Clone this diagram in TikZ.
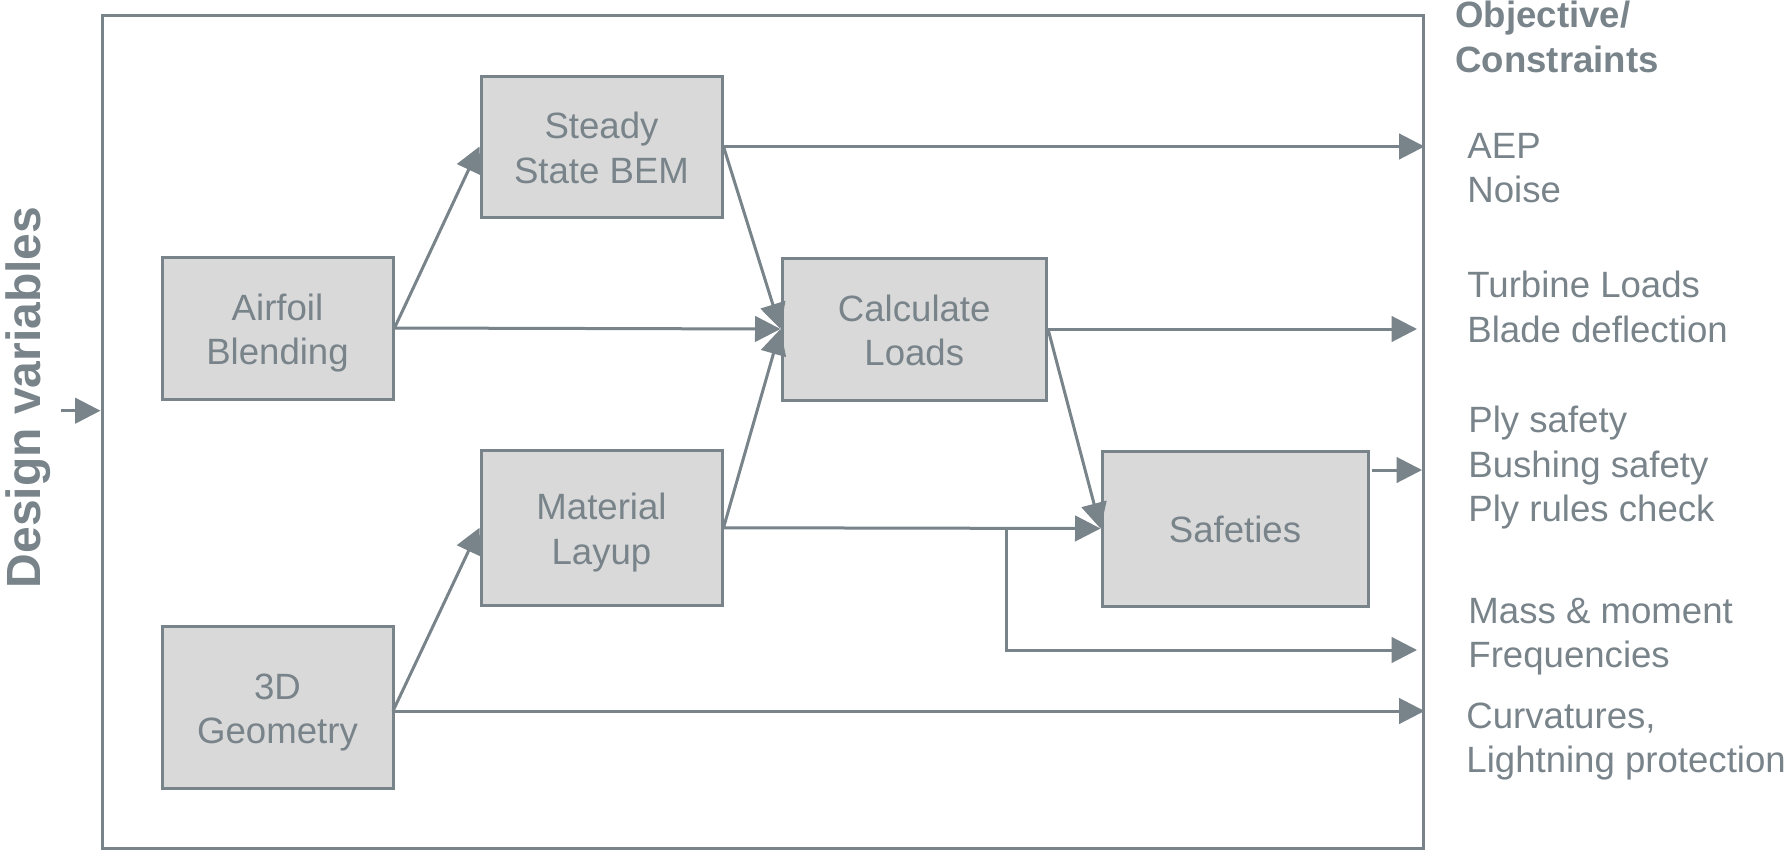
\documentclass[tikz,border=0pt]{standalone}
\usepackage{fontspec}
\setmainfont{Liberation Sans}
\usetikzlibrary{arrows.meta,calc}
\definecolor{ln}{HTML}{78838A}
\definecolor{bx}{HTML}{D9D9D9}
\newcommand\sst{\rule[-4pt]{0pt}{22.3pt}}
\begin{document}
\begin{tikzpicture}[x=0.5pt,y=-0.5pt,
  procbox/.style={draw=ln, fill=bx, line width=1.5pt, inner sep=0pt, align=center,
    font=\fontsize{18.3}{22.3}\selectfont, text=ln},
  lbl/.style={inner sep=0pt, align=left, text=ln, font=\fontsize{18.3}{22.3}\selectfont, anchor=base west},
  arr/.style={draw=ln, line width=1.5pt, -{Triangle[length=12.75pt,width=12.75pt]}}]
\useasboundingbox (0,0) rectangle (1791,851);
% frame
\node[draw=ln, line width=1.5pt, minimum width=660.5pt, minimum height=416.5pt, inner sep=0pt] (frame) at (762.5,431.5) {};
% boxes
\node[procbox, minimum width=120.5pt, minimum height=70.5pt] (s) at (601.5,146.5) {\sst Steady\\\sst State BEM};
\node[procbox, minimum width=115.5pt, minimum height=71pt] (a) at (277.5,328) {\sst Airfoil\\\sst Blending};
\node[procbox, minimum width=132.25pt, minimum height=71pt] (c) at (914.25,329) {\sst Calculate\\\sst Loads};
\node[procbox, minimum width=120.5pt, minimum height=77.75pt] (m) at (601.5,527.75) {\sst Material\\\sst Layup};
\node[procbox, minimum width=133pt, minimum height=77.5pt] (f) at (1235,528.5) {\sst Safeties};
\node[procbox, minimum width=115.5pt, minimum height=81pt] (g) at (277.5,707) {\sst 3D\\\sst Geometry};
% side texts
\node[text=ln, inner sep=0pt, rotate=90, anchor=base, font=\bfseries\fontsize{24}{28}\selectfont] (dv) at (40,397.5) {Design variables};
\node[lbl, font=\bfseries\fontsize{18.3}{22.3}\selectfont] (obj) at (1455,72.3) {Objective/\\Constraints};
\node[lbl] (l1) at (1467,202.7) {AEP\\Noise};
\node[lbl] (l2) at (1467,342.3) {Turbine Loads\\Blade deflection};
\node[lbl] (l3) at (1468,521.7) {Ply safety\\Bushing safety\\Ply rules check};
\node[lbl] (l4) at (1468,667.7) {Mass \& moment\\Frequencies};
\node[lbl] (l5) at (1466,772.7) {Curvatures,\\Lightning protection};
% coordinates for free ends
\coordinate (dvs) at (61,410.7);
\coordinate (cend) at (1417,329);
\coordinate (br) at (1006.7,527.75);
\coordinate (brend) at (1417,650);
\coordinate (fs) at (1371.7,470);
\coordinate (fe) at (1422,470);
\coordinate (gs) at (393,711);
% connectors
\draw[arr] (dvs) -- (dvs -| frame.west);
\draw[arr] (a.east) -- (s.west);
\draw[arr] (a.east) -- (c.west);
\draw[arr] (s.east) -- (s.east -| frame.east);
\draw[arr] (s.east) -- (c.west);
\draw[arr] (m.east) -- (c.west);
\draw[arr] (c.east) -- (cend);
\draw[arr] (c.east) -- (f.west);
\draw[arr] (m.east) -- (f.west);
\draw[arr] (br) |- (brend);
\draw[arr] (fs) -- (fe);
\draw[arr] (gs) -- (m.west);
\draw[arr] (gs) -- (gs -| frame.east);
\end{tikzpicture}
\end{document}
